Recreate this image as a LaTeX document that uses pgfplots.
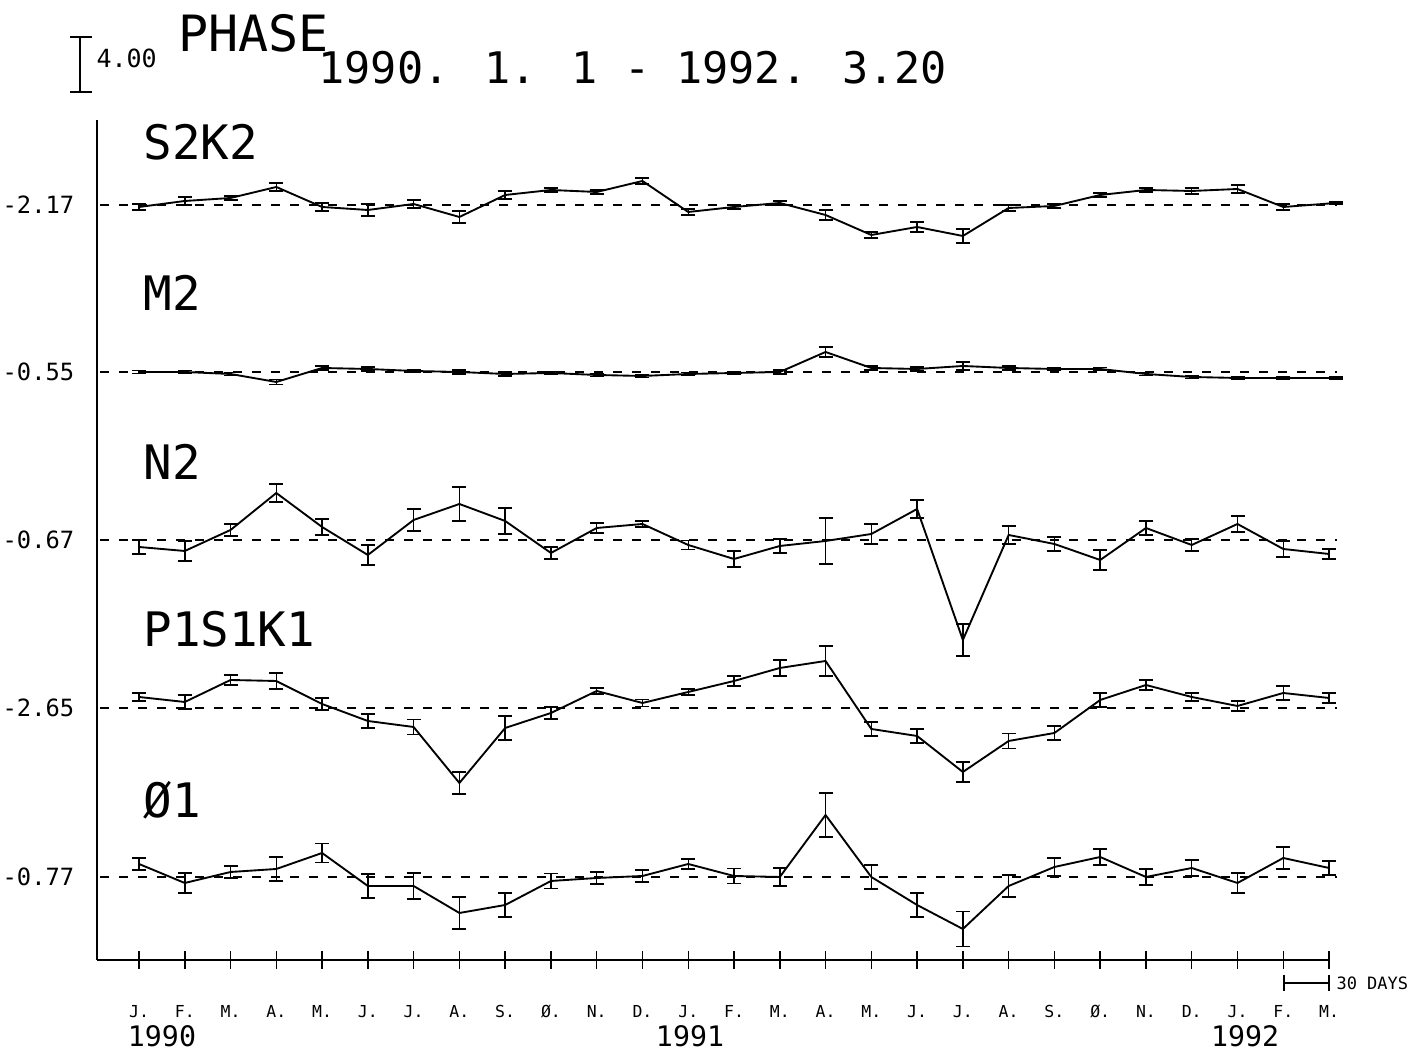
\documentclass[border=0pt]{standalone}
\usepackage{pgfplots}
\usepackage{pgfplotstable}
\pgfplotsset{compat=1.18}
\usepackage{fontspec}
\setmainfont{DejaVu Sans Mono}

\pgfplotstableread{
m p e
0 207 3
1 201 4
2 198 2
3 187 4
4 207 4
5 210 6
6 204 4
7 217 6
8 195 4
9 190 2
10 192 2
11 181 3
12 212 3
13 207 2
14 203 2
15 215 5
16 235 3
17 227 5
18 236 7
19 208 3
20 206 2
21 195 2
22 190 2
23 191 3
24 189 4
25 207 3
26.15 203 1
}\sk

\pgfplotstableread{
m p e
0 372 1.5
1 372 1.5
2 374 1.5
3 382 2.5
4 368 2
5 369 2
6 371 1.5
7 372 2
8 374 2
9 373 1.5
10 375 1.5
11 376 1.5
12 374 1.5
13 373 1.5
14 372 2
15 352 5
16 368 2
17 369 2
18 366 4
19 368 2
20 369 1.5
21 369 1.5
22 374 1.5
23 377 1.5
24 378 1.5
25 378 1.5
26.15 378 1
}\mtwo

\pgfplotstableread{
m p e
0 547 7
1 551 10
2 530 6
3 493 9
4 527 8
5 555 10
6 520 11
7 504 17
8 521 13
9 553 6
10 528 5
11 524 3
12 545 4.5
13 559 8
14 546 7
15 541 23
16 534 10
17 509 9
18 640 16
19 535 9
20 544 7
21 560 10
22 528 7
23 545 6
24 524 8
25 549 8
26 554 5
}\ntwo

\pgfplotstableread{
m p e
0 697 4
1 702 7
2 680 5
3 681 8
4 704 6
5 721 7
6 727 7.5
7 783 11
8 728 12
9 713 6
10 691 3
11 703 3.5
12 692 3
13 681 5
14 668 8
15 661 15
16 729 7
17 736 7
18 772 10
19 741 7.5
20 733 7
21 700 7
22 685 5
23 697 4
24 706 5
25 693 7
26 698 5
}\psk

\pgfplotstableread{
m p e
0 864 6
1 883 10
2 872 6
3 869 12
4 853 9.5
5 886 12
6 886 13
7 913 16
8 905 12
9 881 7.5
10 878 6
11 876 6
12 864 5
13 876 7.5
14 877 9
15 815 22
16 877 12
17 905 12
18 929 17.5
19 886 11
20 867 9
21 857 8
22 877 8
23 868 8
24 883 10
25 858 11
26 868 7
}\oone

\pgfplotsset{
  ser/.style={black, line width=0.75pt, no marks,
    error bars/.cd, y dir=both, y explicit,
    error mark=|,
    error bar style={line width=0.6pt},
    error mark options={mark size=2.8pt, line width=0.7pt}},
  base/.style={black, line width=0.6pt, dash pattern=on 3.6pt off 4pt, no marks}
}

\begin{document}
\begin{tikzpicture}
\begin{axis}[
  x=0.4pt, y=0.4pt,
  xmin=97, xmax=1329.5, ymin=91, ymax=931,
  axis lines=left,
  axis line style={-, line width=0.8pt},
  clip=false,
  xtick={139,184.77,...,1330},
  xticklabels={J.,F.,M.,A.,M.,J.,J.,A.,S.,Ø.,N.,D.,J.,F.,M.,A.,M.,J.,J.,A.,S.,Ø.,N.,D.,J.,F.,M.},
  xtick align=center,
  major tick length=7.2pt,
  x tick style={line width=0.6pt, black},
  xticklabel style={font=\fontsize{6.6}{7}\selectfont, anchor=center, yshift=-17pt},
  ytick={174,343,511,679,846},
  yticklabels={-0.77,-2.65,-0.67,-0.55,-2.17},
  y tick style={draw=none},
  yticklabel style={font=\fontsize{9.5}{10}\selectfont, anchor=east, xshift=-2pt},
]
\coordinate (BL) at (axis cs:0,0);
\coordinate (TR) at (axis cs:1416,1051);

\addplot[base] coordinates {(100,846) (1337,846)};
\addplot[base] coordinates {(100,679) (1337,679)};
\addplot[base] coordinates {(100,511) (1337,511)};
\addplot[base] coordinates {(100,343) (1337,343)};
\addplot[base] coordinates {(100,174) (1337,174)};

\addplot[ser] table[x expr=139+45.77*\thisrow{m}, y expr=1051-\thisrow{p}, y error=e] {\sk};
\addplot[ser] table[x expr=139+45.77*\thisrow{m}, y expr=1051-\thisrow{p}, y error=e] {\mtwo};
\addplot[ser] table[x expr=139+45.77*\thisrow{m}, y expr=1051-\thisrow{p}, y error=e] {\ntwo};
\addplot[ser] table[x expr=139+45.77*\thisrow{m}, y expr=1051-\thisrow{p}, y error=e] {\psk};
\addplot[ser] table[x expr=139+45.77*\thisrow{m}, y expr=1051-\thisrow{p}, y error=e] {\oone};

% series names
\node[anchor=west, font=\fontsize{19}{20}\selectfont, inner sep=0pt] at (axis cs:143,909) {S2K2};
\node[anchor=west, font=\fontsize{19}{20}\selectfont, inner sep=0pt] at (axis cs:143,758) {M2};
\node[anchor=west, font=\fontsize{19}{20}\selectfont, inner sep=0pt] at (axis cs:143,589) {N2};
\node[anchor=west, font=\fontsize{19}{20}\selectfont, inner sep=0pt] at (axis cs:143,422) {P1S1K1};
\node[anchor=west, font=\fontsize{19}{20}\selectfont, inner sep=0pt] at (axis cs:143,251) {Ø1};

% title block
\node[anchor=west, font=\fontsize{20}{22}\selectfont, inner sep=0pt] at (axis cs:178,1018) {PHASE};
\node[anchor=west, font=\fontsize{10}{11}\selectfont, inner sep=0pt] at (axis cs:96,993) {4.00};
\node[anchor=west, font=\fontsize{17.4}{19}\selectfont, inner sep=0pt] at (axis cs:318,983) {1990. 1. 1 - 1992. 3.20};
\draw[line width=0.6pt] (axis cs:80,1014) -- (axis cs:80,959);
\draw[line width=0.6pt] (axis cs:70,1014) -- (axis cs:92,1014);
\draw[line width=0.6pt] (axis cs:70,959) -- (axis cs:92,959);

% years
\node[font=\fontsize{11.3}{12}\selectfont, inner sep=0pt] at (axis cs:162,15) {1990};
\node[font=\fontsize{11.3}{12}\selectfont, inner sep=0pt] at (axis cs:690,15) {1991};
\node[font=\fontsize{11.3}{12}\selectfont, inner sep=0pt] at (axis cs:1245,15) {1992};

% 30 days bracket
\draw[line width=0.6pt] (axis cs:1284,68) -- (axis cs:1329,68);
\draw[line width=0.6pt] (axis cs:1284,76) -- (axis cs:1284,60);
\draw[line width=0.6pt] (axis cs:1329,76) -- (axis cs:1329,60);
\node[anchor=west, font=\fontsize{6.8}{7}\selectfont, inner sep=0pt] at (axis cs:1336,68) {30 DAYS};
\end{axis}
\pgfresetboundingbox
\useasboundingbox (BL) rectangle (TR);
\end{tikzpicture}
\end{document}
